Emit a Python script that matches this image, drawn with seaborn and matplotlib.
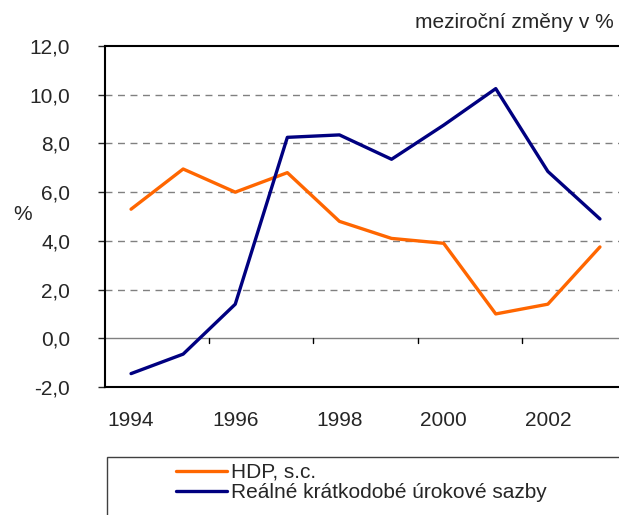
import numpy as np
import pandas as pd
import matplotlib
matplotlib.use("Agg")
import matplotlib.pyplot as plt
import seaborn as sns
from matplotlib.patches import Rectangle
from matplotlib.ticker import FuncFormatter, FixedLocator

years = [1994, 1995, 1996, 1997, 1998, 1999, 2000, 2001, 2002, 2003]
hdp = [5.3, 6.95, 6.0, 6.8, 4.8, 4.1, 3.9, 1.0, 1.4, 3.75]
sazby = [-1.45, -0.65, 1.4, 8.25, 8.35, 7.35, 8.75, 10.25, 6.85, 4.9]
series_names = ["HDP, s.c.", "Reálné krátkodobé úrokové sazby"]
year_labels = [1994, 1996, 1998, 2000, 2002]
y_ticks = [-2, 0, 2, 4, 6, 8, 10, 12]

sns.set_style("white")
plt.rcParams['font.family'] = ['Liberation Sans', 'DejaVu Sans']
FS = 15

df = pd.DataFrame({
    "rok": years * 2,
    "hodnota": hdp + sazby,
    "rada": [series_names[0]] * len(years) + [series_names[1]] * len(years),
})

fig = plt.figure(figsize=(6.19, 5.15), dpi=100)
ax = fig.add_axes([105 / 619, 128 / 515, 521 / 619, 341 / 515])

sns.lineplot(data=df, x="rok", y="hodnota", hue="rada", ax=ax,
             palette=["#FF6600", "#000080"], linewidth=2.4, legend=False,
             zorder=3)

ax.set_xlim(1993.5, 2003.5)
ax.set_ylim(-2, 12)

# dashed grid + zero axis line
for v in [2, 4, 6, 8, 10]:
    ax.axhline(v, color="#808080", lw=1.0, ls=(0, (5, 4)), zorder=1)
ax.axhline(0, color="#808080", lw=1.0, zorder=1)
# category tick marks on the zero line
for b in [1995.5, 1997.5, 1999.5, 2001.5]:
    ax.plot([b, b], [0, -0.2], color="black", lw=1.0, zorder=2)

ax.xaxis.set_major_locator(FixedLocator(year_labels))
ax.set_xticklabels([str(y) for y in year_labels])
ax.tick_params(axis="x", length=0, pad=17, labelsize=FS)
ax.yaxis.set_major_locator(FixedLocator(y_ticks))
ax.yaxis.set_major_formatter(FuncFormatter(lambda v, p: f"{v:.1f}".replace(".", ",")))
ax.tick_params(axis="y", length=5, width=1, direction="out", pad=20, labelsize=FS, left=True)
ax.set_xlabel("")
ax.set_ylabel("")

for s in ax.spines.values():
    s.set_color("black")
    s.set_linewidth(1.5)

fig.text(13 / 619, 1 - 215 / 515, "%", fontsize=FS, ha="left", va="center")
fig.text(614 / 619, 1 - 23 / 515, "meziroční změny v %", fontsize=FS, ha="right", va="center")

# legend box at the bottom
fig.patches.append(Rectangle((107 / 619, -0.1), 1.0, (515 - 457) / 515 + 0.1,
                             transform=fig.transFigure, fill=False,
                             edgecolor="#404040", lw=1.0))
handles = ax.get_lines()[:2]
fig.legend(handles, series_names, loc="upper left", frameon=False,
           bbox_to_anchor=(176 / 619, 1 - 463 / 515), fontsize=FS,
           handlelength=2.45, handletextpad=0.2, labelspacing=0.05,
           borderaxespad=0, borderpad=0)

fig.savefig("out.png", dpi=100)
